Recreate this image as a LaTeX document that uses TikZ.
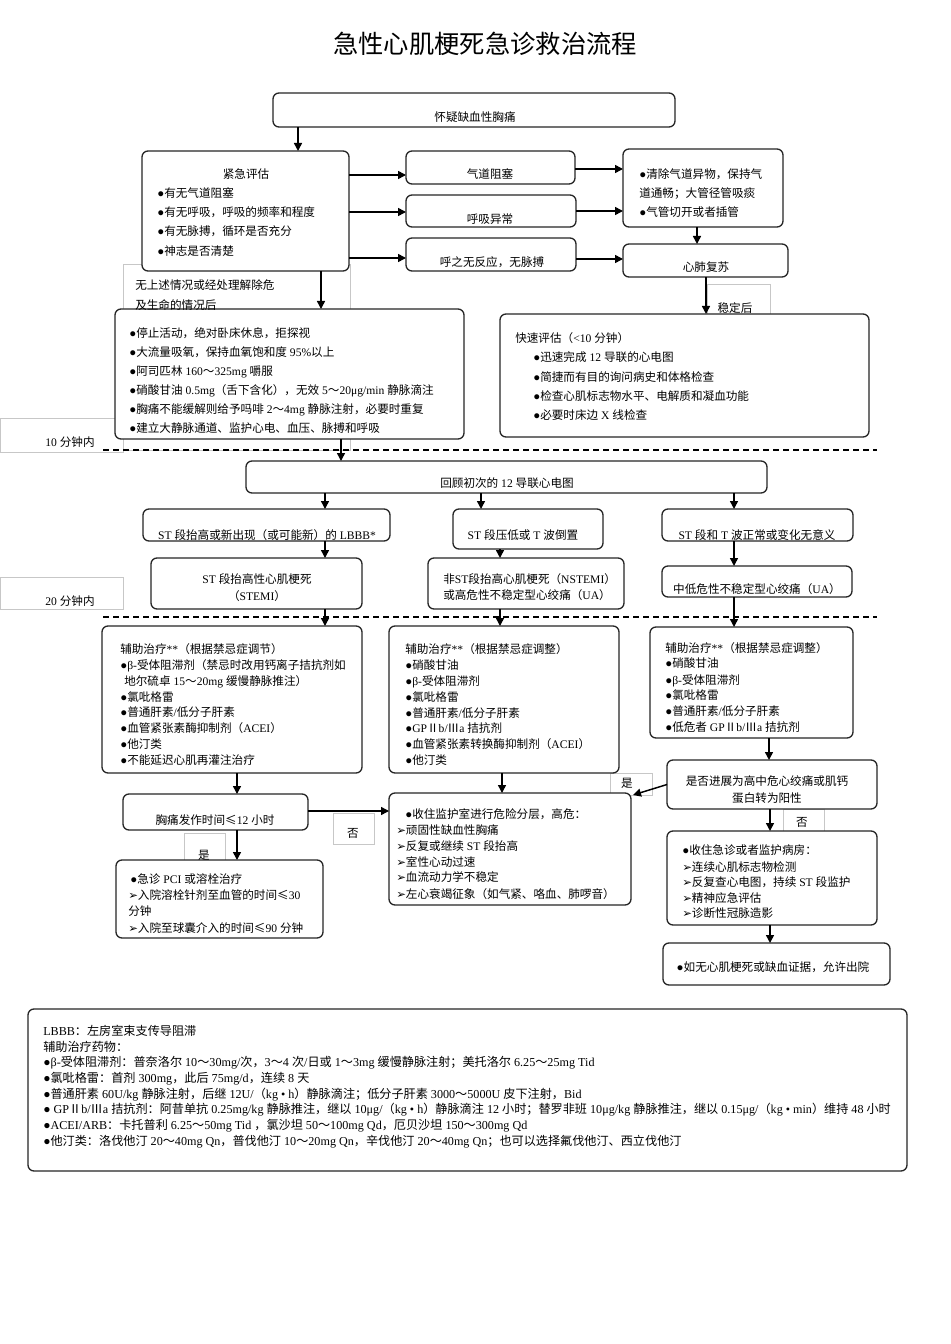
\documentclass[tikz,border=0pt]{standalone}
\usepackage{fontspec}
\setmainfont{Liberation Serif}
\newfontfamily\latf{Liberation Serif}
\newfontfamily\cjkf{Noto Sans CJK SC}
\newfontfamily\djv{DejaVu Sans}
\usetikzlibrary{arrows.meta}
\XeTeXinterchartokenstate=1
\makeatletter
\def\cjkrange#1#2{\count@=#1\relax
  \loop
    \XeTeXcharclass\count@=10\relax
  \ifnum\count@<#2\relax
    \advance\count@\@ne
  \repeat}
\makeatother
\cjkrange{"4E00}{"9FFF}
\cjkrange{"3000}{"303F}
\cjkrange{"FF00}{"FFEF}
\cjkrange{"2160}{"216F}
\cjkrange{"2264}{"2265}
\XeTeXinterchartoks 0 10 = {\cjkf}
\XeTeXinterchartoks 4095 10 = {\cjkf}
\XeTeXinterchartoks 10 0 = {\latf}
\XeTeXinterchartoks 10 4095 = {\latf}
\newcommand\tipm{{\djv ➢}}
\newcommand\bx[6][box]{\node[#1,minimum width={(#5-#3)*0.75pt},minimum height={(#6-#4)*0.75pt}] (#2) at ({(#3+#5)/2},{(#4+#6)/2}) {};}
\begin{document}
\begin{tikzpicture}[x=0.75pt,y=-0.75pt,
 box/.style={draw=black!85, line width=1pt, rounded corners=4.5pt, fill=white, inner sep=0pt, outer sep=0pt},
 lbl/.style={draw=black!22, line width=0.6pt, fill=white, inner sep=0pt, outer sep=0pt},
 arr/.style={draw=black, line width=1.1pt, -{Triangle[length=6pt,width=6pt]}},
 dsh/.style={draw=black, line width=0.8pt, dash pattern=on 4.5pt off 3pt},
 tx/.style={font=\fontsize{8.7}{10.4}\selectfont, inner sep=0pt, anchor=base west},
 tc/.style={font=\fontsize{8.7}{10.4}\selectfont, inner sep=0pt, anchor=base},
 tl/.style={font=\fontsize{9.1}{10.8}\selectfont, inner sep=0pt, anchor=base west}]
\useasboundingbox[fill=white] (0,0) rectangle (950,1344);

% gray label boxes
\bx[lbl]{L1}{123}{264}{350}{450}
\bx[lbl]{L10}{0}{418}{123}{452}
\bx[lbl]{L2}{707}{284}{770}{314}
\bx[lbl]{L20}{0}{577}{123}{609}
\bx[lbl]{Ls1}{184}{833}{225}{860}
\bx[lbl]{Lf1}{333}{813}{374}{844}
\bx[lbl]{Ls2}{610}{773}{652}{795}
\bx[lbl]{Lf2}{783}{809}{824}{831}

% main boxes
\bx{b1}{273}{93}{675}{127}
\bx{b2}{142}{151}{349}{271}
\bx{b3}{115}{309}{464}{439}
\bx{qd}{406}{151}{575}{184}
\bx{hx}{406}{195}{576}{227}
\bx{hz}{406}{238}{576}{271}
\bx{qc}{623}{149}{783}{227}
\bx{xf}{623}{244}{788}{277}
\bx{ks}{500}{314}{869}{437}
\bx{hg}{246}{461}{767}{493}
\bx{lb}{143}{509}{390}{541}
\bx{sd}{453}{509}{603}{549}
\bx{sn}{662}{509}{853}{541}
\bx{stemi}{151}{558}{362}{609}
\bx{nstemi}{428}{558}{624}{609}
\bx{ua}{662}{566}{852}{597}
\bx{fa}{102}{626}{362}{773}
\bx{fb}{389}{626}{619}{773}
\bx{fc}{650}{627}{853}{738}
\bx{xt}{123}{794}{308}{830}
\bx{pci}{116}{860}{323}{938}
\bx{dd}{389}{793}{631}{905}
\bx{ee}{667}{760}{877}{809}
\bx{ff}{667}{831}{877}{925}
\bx{gg}{663}{943}{890}{985}
\bx{leg}{28}{1009}{907}{1171}

% dashed time lines
\draw[dsh] (103,450) -- (877,450);
\draw[dsh] (103,617) -- (877,617);

% helper coordinates
\coordinate (x298) at (298,0);
\coordinate (x321) at (321,0);
\coordinate (x697) at (697,0);
\coordinate (x706) at (706,0);
\coordinate (x341) at (341,0);
\coordinate (x325) at (325,0);
\coordinate (x481) at (481,0);
\coordinate (x734) at (734,0);
\coordinate (x500) at (500,0);
\coordinate (x237) at (237,0);
\coordinate (x502) at (502,0);
\coordinate (x769) at (769,0);
\coordinate (x770) at (770,0);
\coordinate (y175) at (0,175);
\coordinate (y212) at (0,212);
\coordinate (y258) at (0,258);
\coordinate (y169) at (0,169);
\coordinate (y211) at (0,211);
\coordinate (y259) at (0,259);
\coordinate (y811) at (0,811);
\coordinate (dtip) at (633,795);

% connectors
\draw[arr] (b1.south -| x298) -- (b2.north -| x298);
\draw[arr] (b2.south -| x321) -- (b3.north -| x321);
\draw[arr] (b2.east |- y175) -- (qd.west |- y175);
\draw[arr] (b2.east |- y212) -- (hx.west |- y212);
\draw[arr] (b2.east |- y258) -- (hz.west |- y258);
\draw[arr] (qd.east |- y169) -- (qc.west |- y169);
\draw[arr] (hx.east |- y211) -- (qc.west |- y211);
\draw[arr] (hz.east |- y259) -- (xf.west |- y259);
\draw[arr] (qc.south -| x697) -- (xf.north -| x697);
\draw[arr] (xf.south -| x706) -- (ks.north -| x706);
\draw[arr] (b3.south -| x341) -- (hg.north -| x341);
\draw[arr] (hg.south -| x325) -- (lb.north -| x325);
\draw[arr] (hg.south -| x481) -- (sd.north -| x481);
\draw[arr] (hg.south -| x734) -- (sn.north -| x734);
\draw[arr] (lb.south -| x325) -- (stemi.north -| x325);
\draw[arr] (sd.south -| x500) -- (nstemi.north -| x500);
\draw[arr] (sn.south -| x734) -- (ua.north -| x734);
\draw[arr] (stemi.south -| x325) -- (fa.north -| x325);
\draw[arr] (nstemi.south -| x500) -- (fb.north -| x500);
\draw[arr] (ua.south -| x734) -- (fc.north -| x734);
\draw[arr] (fa.south -| x237) -- (xt.north -| x237);
\draw[arr] (xt.south -| x237) -- (pci.north -| x237);
\draw[arr] (xt.east |- y811) -- (dd.west |- y811);
\draw[arr] (fb.south -| x502) -- (dd.north -| x502);
\draw[arr] (fc.south -| x769) -- (ee.north -| x769);
\draw[arr] (ee.west) -- (dtip);
\draw[arr] (ee.south -| x770) -- (ff.north -| x770);
\draw[arr] (ff.south -| x770) -- (gg.north -| x770);

% texts
\node[tc, font=\fontsize{19}{22}\selectfont] (title) at (485,54) {急性心肌梗死急诊救治流程};
\node[tc] (t1) at (475,122) {怀疑缺血性胸痛};
\node[tc] (t2) at (246,179) {紧急评估};
\node[tx] (t2a) at (157,198) {●有无气道阻塞};
\node[tx] (t2b) at (157,217) {●有无呼吸，呼吸的频率和程度};
\node[tx] (t2c) at (157,236) {●有无脉搏，循环是否充分};
\node[tx] (t2d) at (157,256) {●神志是否清楚};
\node[tx] (tl1a) at (135,290) {无上述情况或经处理解除危};
\node[tx] (tl1b) at (135,310) {及生命的情况后};
\node[tx] (t3a) at (129,337) {●停止活动，绝对卧床休息，拒探视};
\node[tx] (t3b) at (129,356) {●大流量吸氧，保持血氧饱和度 95\%以上};
\node[tx] (t3c) at (129,375) {●阿司匹林 160～325mg 嚼服};
\node[tx] (t3d) at (129,394) {●硝酸甘油 0.5mg（舌下含化），无效 5～20μg/min 静脉滴注};
\node[tx] (t3e) at (129,413) {●胸痛不能缓解则给予吗啡 2～4mg 静脉注射，必要时重复};
\node[tx] (t3f) at (129,432) {●建立大静脉通道、监护心电、血压、脉搏和呼吸};
\node[tc] (tqd) at (490,179) {气道阻塞};
\node[tc] (thx) at (490,224) {呼吸异常};
\node[tc] (thz) at (492,267) {呼之无反应，无脉搏};
\node[tx] (tqa) at (639,179) {●清除气道异物，保持气};
\node[tx] (tqb) at (639,198) {道通畅；大管径管吸痰};
\node[tx] (tqc) at (639,217) {●气管切开或者插管};
\node[tc] (txf) at (706,272) {心肺复苏};
\node[tc] (tl2) at (735,312) {稳定后};
\node[tx] (tka) at (515,342) {快速评估（<10 分钟）};
\node[tx] (tkb) at (533,361) {●迅速完成 12 导联的心电图};
\node[tx] (tkc) at (533,381) {●简捷而有目的询问病史和体格检查};
\node[tx] (tkd) at (533,400) {●检查心肌标志物水平、电解质和凝血功能};
\node[tx] (tke) at (533,419) {●必要时床边 X 线检查};
\node[tc] (tl10) at (70,446) {10 分钟内};
\node[tc] (thg) at (507,487) {回顾初次的 12 导联心电图};
\node[tc] (tlb) at (267,539) {ST 段抬高或新出现（或可能新）的 LBBB*};
\node[tc] (tsd) at (523,539) {ST 段压低或 T 波倒置};
\node[tc] (tsn) at (757,539) {ST 段和 T 波正常或变化无意义};
\node[tc] (tsa) at (257,583) {ST 段抬高性心肌梗死};
\node[tc] (tsb) at (257,600) {（STEMI）};
\node[tx] (tna) at (443,583) {非ST段抬高心肌梗死（NSTEMI）};
\node[tx] (tnb) at (443,599) {或高危性不稳定型心绞痛（UA）};
\node[tc] (tua) at (757,593) {中低危性不稳定型心绞痛（UA）};
\node[tc] (tl20) at (70,605) {20 分钟内};
\node[tx] (tfa1) at (120,653) {辅助治疗**（根据禁忌症调节）};
\node[tx] (tfa2) at (120,669) {●β-受体阻滞剂（禁忌时改用钙离子拮抗剂如};
\node[tx] (tfa3) at (124,685) {地尔硫卓 15～20mg 缓慢静脉推注）};
\node[tx] (tfa4) at (120,701) {●氯吡格雷};
\node[tx] (tfa5) at (120,716) {●普通肝素/低分子肝素};
\node[tx] (tfa6) at (120,732) {●血管紧张素酶抑制剂（ACEI）};
\node[tx] (tfa7) at (120,748) {●他汀类};
\node[tx] (tfa8) at (120,764) {●不能延迟心肌再灌注治疗};
\node[tx] (tfb1) at (405,653) {辅助治疗**（根据禁忌症调整）};
\node[tx] (tfb2) at (405,669) {●硝酸甘油};
\node[tx] (tfb3) at (405,685) {●β-受体阻滞剂};
\node[tx] (tfb4) at (405,701) {●氯吡格雷};
\node[tx] (tfb5) at (405,717) {●普通肝素/低分子肝素};
\node[tx] (tfb6) at (405,732) {●GPⅡb/Ⅲa 拮抗剂};
\node[tx] (tfb7) at (405,748) {●血管紧张素转换酶抑制剂（ACEI）};
\node[tx] (tfb8) at (405,764) {●他汀类};
\node[tx] (tfc1) at (665,652) {辅助治疗**（根据禁忌症调整）};
\node[tx] (tfc2) at (665,667) {●硝酸甘油};
\node[tx] (tfc3) at (665,684) {●β-受体阻滞剂};
\node[tx] (tfc4) at (665,699) {●氯吡格雷};
\node[tx] (tfc5) at (665,715) {●普通肝素/低分子肝素};
\node[tx] (tfc6) at (665,731) {●低危者 GPⅡb/Ⅲa 拮抗剂};
\node[tc] (txt) at (215,824) {胸痛发作时间≤12 小时};
\node[tc] (tls1) at (204,859) {是};
\node[tc] (tlf1) at (353,837) {否};
\node[tx] (tp1) at (130,883) {●急诊 PCI 或溶栓治疗};
\node[tx] (tp2) at (128,899) {\tipm{}入院溶栓针剂至血管的时间≤30};
\node[tx] (tp3) at (128,915) {分钟};
\node[tx] (tp4) at (128,932) {\tipm{}入院至球囊介入的时间≤90 分钟};
\node[tx] (td1) at (405,818) {●收住监护室进行危险分层，高危：};
\node[tx] (td2) at (396,834) {\tipm{}顽固性缺血性胸痛};
\node[tx] (td3) at (396,850) {\tipm{}反复或继续 ST 段抬高};
\node[tx] (td4) at (396,866) {\tipm{}室性心动过速};
\node[tx] (td5) at (396,881) {\tipm{}血流动力学不稳定};
\node[tx] (td6) at (396,898) {\tipm{}左心衰竭征象（如气紧、咯血、肺啰音）};
\node[tc] (te1) at (767,785) {是否进展为高中危心绞痛或肌钙};
\node[tc] (te2) at (767,802) {蛋白转为阳性};
\node[tc] (tls2) at (627,787) {是};
\node[tc] (tlf2) at (802,826) {否};
\node[tx] (tf1) at (682,854) {●收住急诊或者监护病房：};
\node[tx] (tf2) at (682,871) {\tipm{}连续心肌标志物检测};
\node[tx] (tf3) at (682,886) {\tipm{}反复查心电图，持续 ST 段监护};
\node[tx] (tf4) at (682,902) {\tipm{}精神应急评估};
\node[tx] (tf5) at (682,917) {\tipm{}诊断性冠脉造影};
\node[tc] (tg) at (773,971) {●如无心肌梗死或缺血证据，允许出院};
\node[tl] (tg1) at (43,1035) {LBBB：左房室束支传导阻滞};
\node[tl] (tg2) at (43,1051) {辅助治疗药物：};
\node[tl] (tg3) at (43,1066) {●β-受体阻滞剂：普奈洛尔 10～30mg/次，3～4 次/日或 1～3mg 缓慢静脉注射；美托洛尔 6.25～25mg Tid};
\node[tl] (tg4) at (43,1082) {●氯吡格雷：首剂 300mg，此后 75mg/d，连续 8 天};
\node[tl] (tg5) at (43,1098) {●普通肝素 60U/kg 静脉注射，后继 12U/（kg • h）静脉滴注；低分子肝素 3000～5000U 皮下注射，Bid};
\node[tl] (tg6) at (43,1113) {● GPⅡb/Ⅲa 拮抗剂：阿昔单抗 0.25mg/kg 静脉推注，继以 10μg/（kg • h）静脉滴注 12 小时；替罗非班 10μg/kg 静脉推注，继以 0.15μg/（kg • min）维持 48 小时};
\node[tl] (tg7) at (43,1129) {●ACEI/ARB：卡托普利 6.25～50mg Tid ，氯沙坦 50～100mg Qd，厄贝沙坦 150～300mg Qd};
\node[tl] (tg8) at (43,1145) {●他汀类：洛伐他汀 20～40mg Qn，普伐他汀 10～20mg Qn，辛伐他汀 20～40mg Qn；也可以选择氟伐他汀、西立伐他汀};
\end{tikzpicture}
\end{document}
